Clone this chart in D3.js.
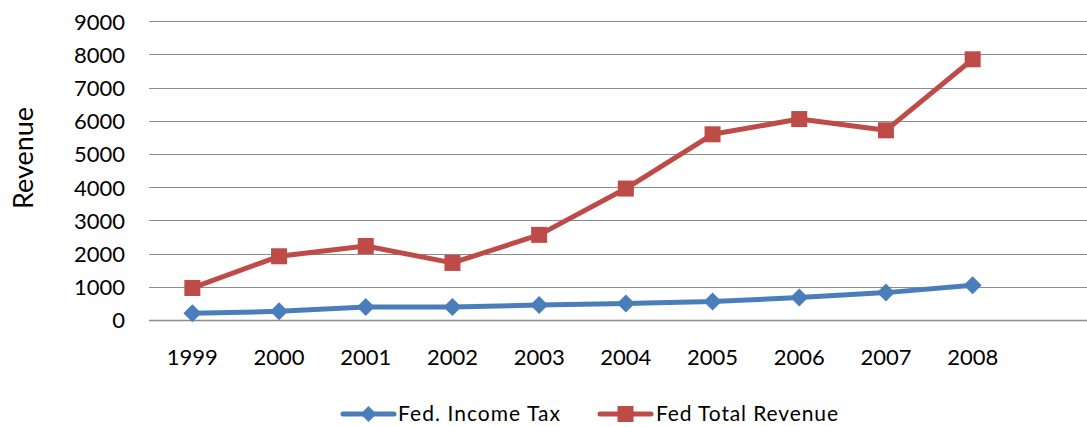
<!DOCTYPE html>
<html>
<head>
<meta charset="utf-8">
<script src="https://cdn.jsdelivr.net/npm/d3@7"></script>
<style>
  html, body { margin: 0; padding: 0; background: #fff; }
  svg { display: block; font-family: Lato, "Open Sans", sans-serif; }
</style>
</head>
<body>
<svg id="chart" width="1087" height="427"></svg>
<script>
const years = ["1999","2000","2001","2002","2003","2004","2005","2006","2007","2008"];
const incomeTax = [200, 260, 390, 390, 450, 495, 555, 675, 825, 1045];
const totalRevenue = [965, 1920, 2230, 1720, 2565, 3960, 5595, 6055, 5715, 7855];
const yTicks = [0, 1000, 2000, 3000, 4000, 5000, 6000, 7000, 8000, 9000];
const seriesNames = ["Fed. Income Tax", "Fed Total Revenue"];
const seriesColors = ["#4A7EBB", "#BE4B48"];

const svg = d3.select("#chart");
const plotLeft = 149, plotRight = 1087, plotTop = 21.3, plotBottom = 320;

const x = d3.scaleBand().domain(years).range([plotLeft, plotLeft + 86.7 * years.length]);
const y = d3.scaleLinear().domain([0, 9000]).range([plotBottom, plotTop]);

// gridlines
svg.append("g").selectAll("line").data(yTicks).join("line")
  .attr("x1", plotLeft).attr("x2", plotRight)
  .attr("y1", d => Math.round(y(d)) + 0.5).attr("y2", d => Math.round(y(d)) + 0.5)
  .attr("stroke", "#8c8c8c").attr("stroke-width", d => d === 0 ? 1.6 : 1.2);

// y axis labels
const yAxis = d3.axisLeft(y).tickValues(yTicks).tickFormat(d3.format("d")).tickSize(0).tickPadding(0);
const gy = svg.append("g").attr("transform", `translate(125,0)`).call(yAxis);
gy.select(".domain").remove();
gy.selectAll("text").attr("font-size", 22).attr("fill", "#000")
  .attr("font-family", "Lato, sans-serif").attr("dy", "0.36em");

// x axis labels
const xAxis = d3.axisBottom(x).tickSize(0).tickPadding(0);
const gx = svg.append("g").attr("transform", `translate(0,349)`).call(xAxis);
gx.select(".domain").remove();
gx.selectAll("text").attr("font-size", 22).attr("fill", "#000")
  .attr("font-family", "Lato, sans-serif").attr("dy", "0.72em");

// y title
svg.append("text")
  .attr("transform", "translate(23,158) rotate(-90)")
  .attr("text-anchor", "middle")
  .attr("dy", "0.36em")
  .attr("font-size", 27)
  .text("Revenue");

const cx = d => x(d) + x.bandwidth() / 2;
const line = d3.line().x((d, i) => cx(years[i])).y(d => y(d));

const series = [incomeTax, totalRevenue];
series.forEach((vals, si) => {
  svg.append("path").datum(vals)
    .attr("d", line).attr("fill", "none")
    .attr("stroke", seriesColors[si]).attr("stroke-width", 5)
    .attr("stroke-linejoin", "round").attr("stroke-linecap", "round");
});

// markers
const diamond = (s) => `M0,${-s}L${s},0L0,${s}L${-s},0Z`;
svg.append("g").selectAll("path").data(incomeTax).join("path")
  .attr("transform", (d, i) => `translate(${cx(years[i])},${y(d)})`)
  .attr("d", diamond(9)).attr("fill", seriesColors[0]);
svg.append("g").selectAll("rect").data(totalRevenue).join("rect")
  .attr("x", (d, i) => cx(years[i]) - 8).attr("y", d => y(d) - 8)
  .attr("width", 16).attr("height", 16).attr("fill", seriesColors[1]);

// legend
const legendItems = [
  { lx1: 343, lx2: 394, tx: 398 },
  { lx1: 600, lx2: 651, tx: 656 }
];
const ly = 414;
legendItems.forEach((it, i) => {
  svg.append("line").attr("x1", it.lx1).attr("x2", it.lx2).attr("y1", ly).attr("y2", ly)
    .attr("stroke", seriesColors[i]).attr("stroke-width", 5).attr("stroke-linecap", "round");
  const mx = (it.lx1 + it.lx2) / 2;
  if (i === 0) {
    svg.append("path").attr("transform", `translate(${mx},${ly})`).attr("d", diamond(8)).attr("fill", seriesColors[0]);
  } else {
    svg.append("rect").attr("x", mx - 8).attr("y", ly - 8).attr("width", 16).attr("height", 16).attr("fill", seriesColors[1]);
  }
  svg.append("text").attr("x", it.tx).attr("y", ly).attr("dy", "0.34em")
    .attr("font-size", 21).attr("textLength", i === 0 ? 162 : 182).attr("lengthAdjust", "spacing")
    .text(seriesNames[i]);
});
</script>
</body>
</html>
